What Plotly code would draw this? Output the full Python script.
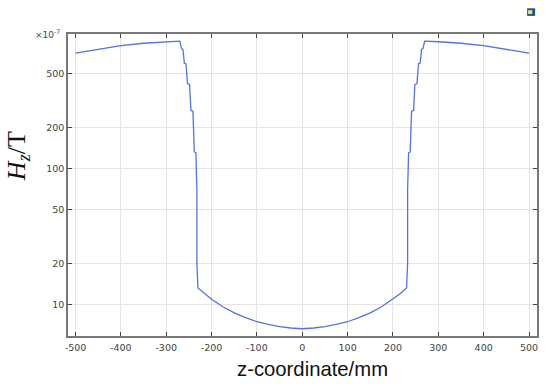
import plotly.graph_objects as go

# left half of the curve, right half is the mirror of it
z_left = [-500, -450, -400, -350, -300, -270, -266, -263, -260, -256.5, -252.8, -248.4, -245.5, -241, -238, -234.5,
          -232.3, -232.3, -230, -215, -200, -175, -150, -125, -100, -75, -50, -25, 0]
hz_left = [701, 752, 798, 830, 851, 859, 755, 747, 593, 586, 418, 413, 266, 263, 132, 130,
           69, 20, 13.2, 11.9, 10.9, 9.6, 8.67, 8.0, 7.45, 7.13, 6.85, 6.7, 6.62]

z_right = [-v for v in z_left[-2::-1]]
hz_right = hz_left[-2::-1]

x_ticks = [-500, -400, -300, -200, -100, 0, 100, 200, 300, 400, 500]
y_ticks = [10, 20, 50, 100, 200, 500]

fig = go.Figure()
fig.add_trace(go.Scatter(x=z_left + z_right, y=hz_left + hz_right, mode="lines",
                         line=dict(color="#5573DC", width=1.3), showlegend=False))

fig.update_xaxes(range=[-516.5, 517.6], tickvals=x_ticks, ticktext=[str(v) for v in x_ticks],
                 ticks="inside", ticklen=4, tickcolor="#444444",
                 showline=True, linecolor="#777777", linewidth=1.5, mirror="ticks",
                 showgrid=True, gridcolor="#E4E4E4", gridwidth=1, zeroline=False,
                 ticklabelstandoff=2,
                 tickfont=dict(family="DejaVu Sans", size=9.5, color="#444444"))
fig.update_yaxes(type="log", range=[0.7674, 2.987], tickvals=y_ticks, ticktext=[str(v) for v in y_ticks],
                 ticks="inside", ticklen=4, tickcolor="#444444",
                 showline=True, linecolor="#777777", linewidth=1.5, mirror="ticks",
                 showgrid=True, gridcolor="#E4E4E4", gridwidth=1, zeroline=False,
                 tickfont=dict(family="DejaVu Sans", size=9.5, color="#444444"))

fig.add_annotation(text="×10<sup>-7</sup>", xref="paper", yref="paper", x=-0.013, y=1.0, xanchor="right", yanchor="middle",
                   showarrow=False, font=dict(family="DejaVu Sans", size=9, color="#444444"))
fig.add_annotation(text="<i>H<sub>z</sub></i>/T", xref="paper", yref="paper", x=-0.107, y=0.595, textangle=-90,
                   xanchor="center", yanchor="middle", showarrow=False,
                   font=dict(family="Liberation Serif", size=26, color="#111111"))
# the x title sits right of the plot centre in the original
fig.add_annotation(text="z-coordinate/mm", xref="paper", yref="paper", x=0.521, y=-0.109,
                   xanchor="center", yanchor="middle", showarrow=False,
                   font=dict(family="Liberation Sans", size=20.3, color="#111111"))

# little toolbar icon in the top right corner
fig.add_shape(type="rect", xref="paper", yref="paper", x0=0.979, x1=0.996, y0=1.06, y1=1.085,
              fillcolor="#1F4E8C", line=dict(width=0))
fig.add_shape(type="rect", xref="paper", yref="paper", x0=0.981, x1=0.99, y0=1.066, y1=1.079,
              fillcolor="#E8E27A", line=dict(width=0))

fig.update_layout(width=550, height=384, margin=dict(l=68, r=13, t=33.5, b=47.5),
                  paper_bgcolor="white", plot_bgcolor="white")
fig.write_html("out.html", config=dict(displayModeBar=False), post_script="document.body.style.margin='0';")
